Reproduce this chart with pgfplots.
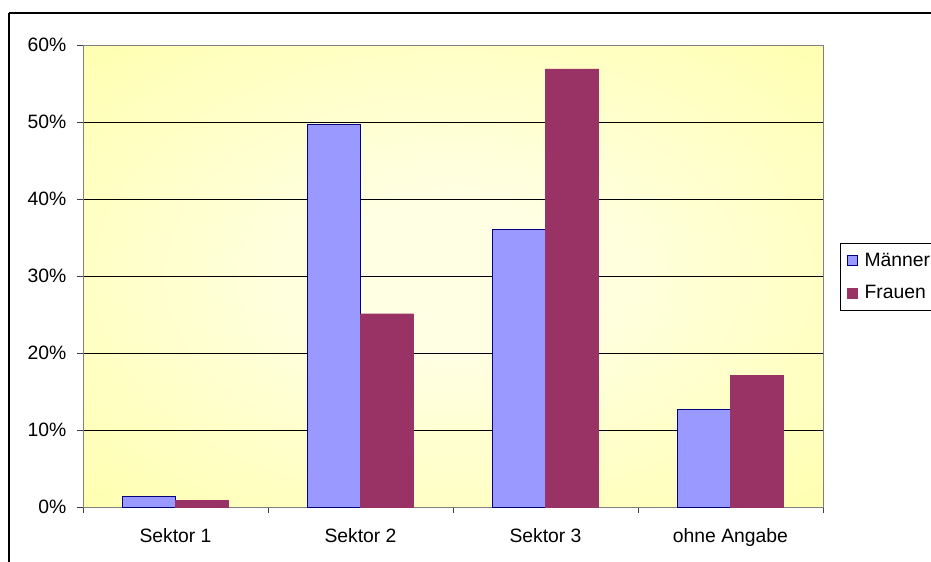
\documentclass[border=0pt]{standalone}
\usepackage{fontspec}
\setmainfont{Liberation Sans}
\usepackage{pgfplots}
\pgfplotsset{compat=1.18}
\definecolor{manner}{HTML}{9999FF}
\definecolor{mannerb}{HTML}{000080}
\definecolor{frauen}{HTML}{993366}
\definecolor{ylw}{HTML}{FFFF99}
\definecolor{ylwc}{HTML}{FFFFE4}
\pgfdeclareradialshading{bgshade}{\pgfpoint{0bp}{0bp}}{color(0bp)=(ylwc); color(8bp)=(ylwc); color(48bp)=(ylw); color(100bp)=(ylw)}
\begin{document}
\begin{tikzpicture}
\path[use as bounding box] (0pt,0pt) rectangle (698.25pt,-420.75pt);
\draw[black, line width=0.9pt] (6.75pt,-9.75pt) -- (750pt,-9.75pt);
\draw[black, line width=0.9pt] (6.75pt,-9.75pt) -- (6.75pt,-500pt);
\begin{axis}[
  at={(62.25pt,-380.25pt)}, anchor=south west,
  scale only axis, width=555pt, height=346.5pt,
  axis background/.style={shade, shading=bgshade},
  axis line style={draw=gray},
  ybar, bar width=39.75pt,
  xmin=-0.5, xmax=3.5, ymin=0, ymax=60,
  tick pos=left,
  xtick={0,1,2,3},
  xticklabels={Sektor 1,Sektor 2,Sektor 3,ohne Angabe},
  xtick style={draw=none},
  minor xtick={-0.5,0.5,1.5,2.5,3.5},
  minor x tick style={draw=darkgray, line width=0.6pt},
  minor tick length=4.5pt,
  ytick={0,10,...,60},
  yticklabel={\pgfmathprintnumber{\tick}\%},
  ytick style={draw=darkgray, line width=0.6pt},
  major tick length=4.5pt,
  tick align=outside,
  ymajorgrids, grid style={black, line width=0.6pt},
  /pgf/number format/assume math mode=true,
  tick label style={font=\fontsize{14.5}{17}\selectfont},
  xticklabel style={yshift=-8pt},
  yticklabel style={xshift=-4.5pt},
  legend style={at={(1.023,0.571)}, anchor=north west, draw=black, fill=white,
    font=\fontsize{14.5}{17}\selectfont, row sep=9pt, column sep=3pt,
    inner xsep=5pt, inner ysep=5pt,
    cells={anchor=west}},
  legend image code/.code={\draw[#1] (0pt,-3.8pt) rectangle (7.6pt,3.8pt);},
]
\addplot[fill=manner, draw=mannerb, line width=0.6pt, bar shift=-19.875pt] coordinates {(0,1.4) (1,49.7) (2,36.1) (3,12.7)};
\addplot[fill=frauen, draw=frauen, line width=0.3pt, bar shift=19.875pt] coordinates {(0,0.9) (1,25.1) (2,56.9) (3,17.1)};
\legend{Männer,Frauen}
\end{axis}
\end{tikzpicture}
\end{document}
